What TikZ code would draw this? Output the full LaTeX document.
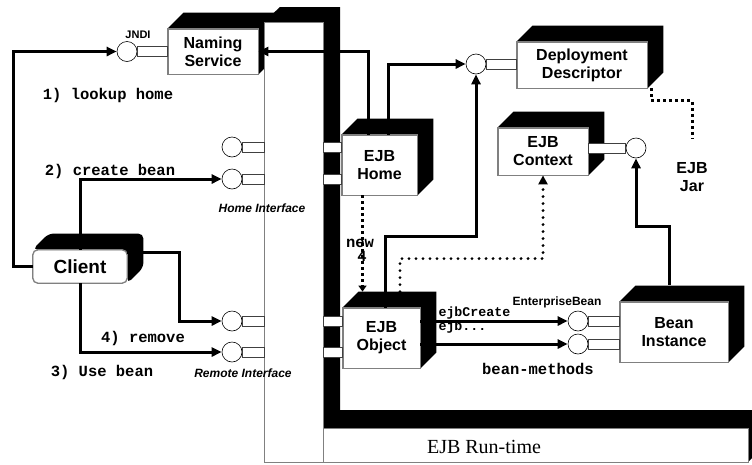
\documentclass[tikz,border=0pt]{standalone}
\usepackage{fontspec}
\setmainfont{Liberation Serif}
\setsansfont{Liberation Sans}
\setmonofont{Liberation Mono}
\usetikzlibrary{positioning, calc, arrows.meta}

% black top and right faces of a block, then its outline again
\newcommand{\cubeside}[2][]{%
  \fill[black, #1] (#2.north west) -- ++(16,-16) -- ([shift={(16,-16)}]#2.north east)
    -- ([shift={(16,-16)}]#2.south east) -- (#2.south east) -- (#2.north east) -- cycle;
  \draw[gray, line width=0.8pt, #1] (#2.south west) rectangle (#2.north east);}
% stick of an interface, between two points on one level
\newcommand{\stub}[2]{\draw[stick] ($(#1)+(0,-5)$) rectangle ($(#2)+(0,5)$);}

\begin{document}
\begin{tikzpicture}[x=1pt, y=-1pt,
    box/.style={draw=gray, line width=0.8pt, fill=white, align=center, inner sep=0pt,
                font=\sffamily\bfseries\fontsize{16}{18}\selectfont},
    lolli/.style={circle, draw, fill=white, minimum size=20pt, inner sep=0pt, line width=0.6pt},
    stick/.style={draw=black!75, fill=white, line width=0.6pt},
    flow/.style={line width=3pt, -{Triangle[length=10pt, width=9pt]}},
    sqdots/.style={line width=3pt, dash pattern=on 3pt off 3pt},
    rddots/.style={line width=3.2pt, line cap=round, dash pattern=on 0pt off 7pt},
    cmd/.style={font=\ttfamily\bfseries\fontsize{15.5}{17}\selectfont},
    tag/.style={font=\sffamily\bfseries\fontsize{12}{14}\selectfont},
    itag/.style={font=\sffamily\bfseries\itshape\fontsize{12}{14}\selectfont},
]
\useasboundingbox (0,0) rectangle (752,464);

% --- Naming service (behind the container) ---
\node[box, minimum width=90pt, minimum height=45pt] (naming) at (213,51.5) {Naming\\Service};
\cubeside{naming}

% --- Container ---
\fill[black] (264,22) -- (280,7) -- (340,7) -- (340,410) -- (752,410) -- (752,458)
    -- (748,462) -- (748,428) -- (323,428) -- (323,22) -- cycle;
\draw[gray, line width=0.8pt, fill=white] (264,22) rectangle (323,462);
\draw[gray, line width=0.8pt, fill=white] (323,428) rectangle (748,462);
\coordinate (colL) at (264,0);
\coordinate (colR) at (323,0);
\node[font=\fontsize{20}{22}\selectfont] (runtime) at (484,447) {EJB Run-time};

% --- Blocks ---
\node[box, rounded corners=5pt, minimum width=94pt, minimum height=33pt,
      font=\sffamily\bfseries\fontsize{19}{21}\selectfont] (client) at (80,266.5) {Client};
\cubeside[rounded corners=5pt]{client}
\node[box, minimum width=75pt, minimum height=60pt] (home) at (379.5,165) {EJB\\Home};
\cubeside{home}
\node[box, minimum width=77pt, minimum height=60pt] (obj) at (381.5,338) {EJB\\Object};
\cubeside{obj}
\node[box, minimum width=130pt, minimum height=46pt] (dd) at (582,65) {Deployment\\Descriptor};
\cubeside{dd}
\node[box, minimum width=90pt, minimum height=47pt] (ctx) at (543,151.5) {EJB\\Context};
\cubeside{ctx}
\node[box, minimum width=108pt, minimum height=60pt] (bean) at (674,332) {Bean\\Instance};
\cubeside{bean}
\node[align=center, font=\sffamily\bfseries\fontsize{16}{18}\selectfont] (jar) at (692,177) {EJB\\Jar};

% --- Interfaces ---
\node[lolli] (jndi) at (127,51.5) {};
\stub{jndi.east}{naming.west |- jndi}
\node[lolli] (hif1) at (232,147) {};
\node[lolli] (hif2) at (232,179) {};
\node[lolli] (rif1) at (232,321) {};
\node[lolli] (rif2) at (232,352) {};
\stub{hif1.east}{colL |- hif1}
\stub{hif2.east}{colL |- hif2}
\stub{rif1.east}{colL |- rif1}
\stub{rif2.east}{colL |- rif2}
\stub{colR |- hif1}{home.west |- hif1}
\stub{colR |- hif2}{home.west |- hif2}
\stub{colR |- rif1}{obj.west |- rif1}
\stub{colR |- rif2}{obj.west |- rif2}
\node[lolli] (ddc) at (476,64) {};
\stub{ddc.east}{dd.west |- ddc}
\node[lolli] (ctxc) at (636,148) {};
\stub{ctx.east |- ctxc}{ctxc.west}
\node[lolli] (bc1) at (578,321) {};
\node[lolli] (bc2) at (578,344) {};
\stub{bc1.east}{bean.west |- bc1}
\stub{bc2.east}{bean.west |- bc2}

% --- Arrows ---
\draw[flow] (client.west) -- ++(-19,0) |- (jndi.west);
\draw[flow] (client.north) |- (hif2.west);
\draw[flow] ([yshift=14pt]client.east) -| ($(rif1.west)+(-42,0)$) -- (rif1.west);
\draw[flow] (client.south) |- (rif2.west);
\draw[flow] ([xshift=-11.5pt]home.north) |- (naming.east);
\draw[flow] ([xshift=8.5pt]home.north) |- (ddc.west);
\draw[flow] ([xshift=3.5pt]obj.north) -- ++(0,-71) -| (ddc.south);
\draw[sqdots, -{Triangle[length=6pt, width=8pt]}] ([xshift=-17pt]home.south)
    -- ([xshift=-19pt, yshift=16pt]obj.north);
\draw[rddots, -{Triangle[length=9pt, width=9pt]}] ([xshift=18.5pt, yshift=16pt]obj.north)
    -- ++(0,-33) -| (ctx.south);
\draw[flow] ([xshift=-5pt, yshift=17pt]bean.north) -- ++(0,-58) -| (ctxc.south);
\draw[flow] (bc1.west -| obj.east) -- (bc1.west);
\draw[flow] (bc2.west -| obj.east) -- (bc2.west);
\draw[sqdots] ([xshift=4pt]dd.south east) -- ++(0,12) -| ([yshift=20pt]jar.north);

% --- Labels ---
\node[cmd] (lookup) at (108,95) {1) lookup home};
\node[cmd] (create) at (110,171) {2) create bean};
\node[cmd] (remove) at (143,338) {4) remove};
\node[cmd] (usebean) at (102,372) {3) Use bean};
\node[itag] (homeif) at (262,208) {Home Interface};
\node[itag] (remoteif) at (243,373) {Remote Interface};
\node[tag, font=\sffamily\bfseries\fontsize{11}{13}\selectfont] (jndilbl) at (138,35) {JNDI};
\node[tag] (eblbl) at (557,302) {EnterpriseBean};
\node[cmd] (methods) at (538,369) {bean-methods};
\node[cmd, font=\ttfamily\bfseries\fontsize{13.3}{15}\selectfont, anchor=west] (ejbc) at (435,313) {ejbCreate};
\node[cmd, font=\ttfamily\bfseries\fontsize{13.3}{15}\selectfont, anchor=west] (ejbd) at (435,327) {ejb...};
\node[cmd] (newlbl) at (360,243) {new};
\node[cmd] (newnum) at (362,256) {4};
\end{tikzpicture}
\end{document}
